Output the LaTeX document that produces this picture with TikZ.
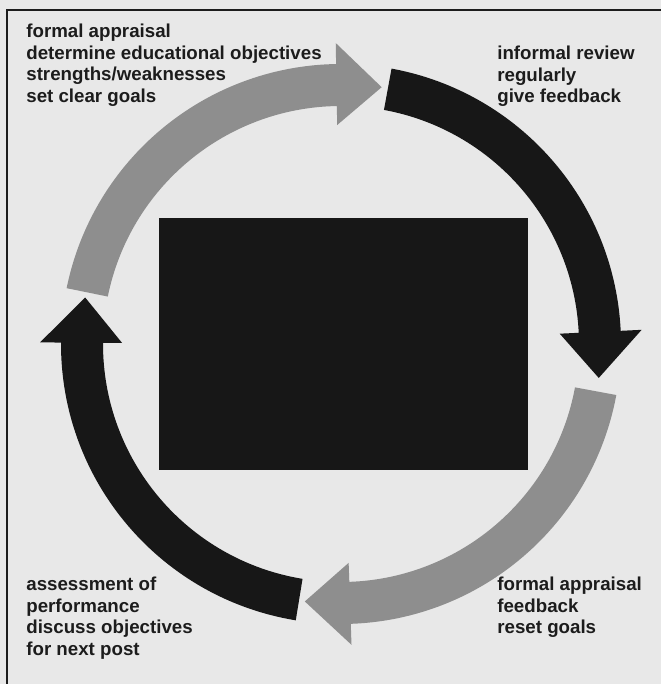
\documentclass[tikz,border=0pt]{standalone}
\usepackage{fontspec}
\setmainfont{Liberation Sans}

\definecolor{paper}{HTML}{E8E8E8}
\definecolor{ink}{HTML}{1C1C1C}
\definecolor{arrowgrey}{HTML}{8E8E8E}
\definecolor{arrowblack}{HTML}{171717}

\tikzset{
  greyarrow/.style={fill=arrowgrey},
  blackarrow/.style={fill=arrowblack},
  caption/.style={anchor=north west, inner sep=0pt, align=left, text=ink,
    font=\bfseries\fontsize{10.65}{12.35}\selectfont}
}

% curved arrow on the ring: style, tail angle, head base angle, tip angle
\newcommand{\ringarrow}[4]{%
  \fill[#1] ([shift={(#2:280)}]ctr) arc[start angle=#2, end angle=#3, radius=280]
    -- ([shift={(#3:301)}]ctr) -- ([shift={(#4:260)}]ctr) -- ([shift={(#3:219)}]ctr)
    -- ([shift={(#3:238)}]ctr) arc[start angle=#3, end angle=#2, radius=238] -- cycle;}

\begin{document}
\begin{tikzpicture}[x=0.02cm,y=0.02cm]
        \fill[paper] (0,0) rectangle (661,684);
        \useasboundingbox (0,0) rectangle (661,684);
        % frame (only top and left edge on the page)
        \draw[ink, line width=0.9pt] (7,0) -- (7,674) -- (661,674);

        \coordinate (ctr) at (341,340);
        \fill[arrowblack] (159,214) rectangle (528,466);

        \ringarrow{greyarrow}{168.5}{91}{81}
        \ringarrow{blackarrow}{79.6}{2.7}{-7.5}
        \ringarrow{greyarrow}{-10.5}{-88}{-98}
        \ringarrow{blackarrow}{-99.3}{-180.3}{-190.3}

        \node[caption] (goals) at (26,660.4) {formal appraisal\\determine educational objectives\\strengths/weaknesses\\set clear goals};
        \node[caption] (review) at (497,638.4) {informal review\\regularly\\give feedback};
        \node[caption] (assess) at (26,107.4) {assessment of\\performance\\discuss objectives\\for next post};
        \node[caption] (reset) at (497,107.4) {formal appraisal\\feedback\\reset goals};
    \end{tikzpicture}
\end{document}
